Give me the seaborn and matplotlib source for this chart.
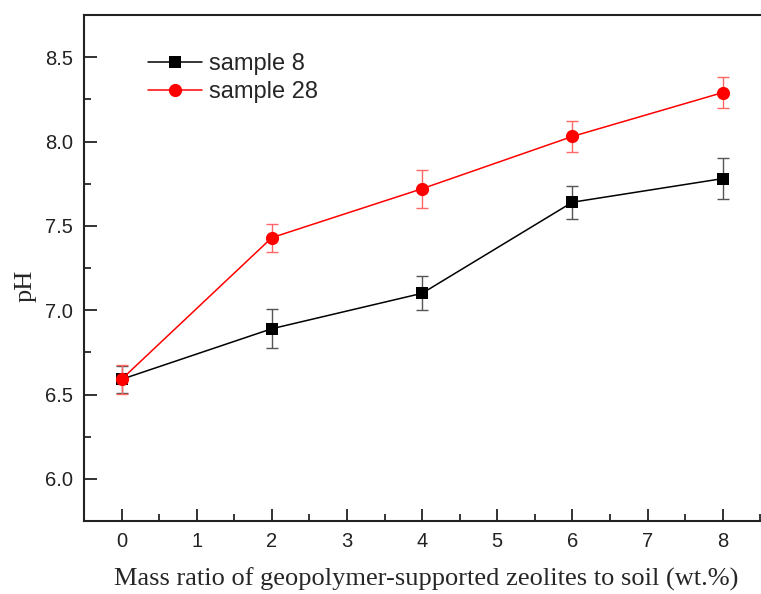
import numpy as np
import pandas as pd
import matplotlib
matplotlib.use("Agg")
import matplotlib.pyplot as plt
import seaborn as sns
from matplotlib.ticker import MultipleLocator

# data
ratio = [0, 2, 4, 6, 8]
ph_s8 = [6.59, 6.89, 7.10, 7.64, 7.78]
err_s8 = [0.08, 0.115, 0.10, 0.097, 0.12]
ph_s28 = [6.59, 7.43, 7.72, 8.03, 8.29]
err_s28 = [0.085, 0.083, 0.113, 0.093, 0.09]
series_names = ["sample 8", "sample 28"]
x_label = "Mass ratio of geopolymer-supported zeolites to soil (wt.%)"
y_label = "pH"

sns.set_style("ticks")
plt.rcParams['font.family'] = ['Liberation Sans', 'DejaVu Sans']

df = pd.DataFrame({
    "ratio": ratio * 2,
    "pH": ph_s8 + ph_s28,
    "series": [series_names[0]] * len(ratio) + [series_names[1]] * len(ratio),
})

fig = plt.figure(figsize=(7.61, 5.94), dpi=100)
ax = fig.add_axes([84 / 761, 1 - 521 / 594, (764 - 84) / 761, 506 / 594])

# error bars
ax.errorbar(ratio, ph_s8, yerr=err_s8, fmt="none", ecolor="#555555", elinewidth=1,
            capsize=4, capthick=1, zorder=2)
ax.errorbar(ratio, ph_s28, yerr=err_s28, fmt="none", ecolor="#ff6666", elinewidth=1,
            capsize=4, capthick=1, zorder=4)

sns.lineplot(data=df[df.series == series_names[0]], x="ratio", y="pH", color="black",
             marker="s", markersize=8, markeredgewidth=0, linewidth=1.1, ax=ax,
             label=series_names[0], zorder=3)
sns.lineplot(data=df[df.series == series_names[1]], x="ratio", y="pH", color="#ff0000",
             marker="o", markersize=9.5, markeredgewidth=0, linewidth=1.1, ax=ax,
             label=series_names[1], zorder=5)

ax.set_xlim(-0.5, 8.55)
ax.set_ylim(5.75, 8.75)
ax.xaxis.set_major_locator(MultipleLocator(1))
ax.xaxis.set_minor_locator(MultipleLocator(0.5))
ax.yaxis.set_major_locator(MultipleLocator(0.5))
ax.yaxis.set_minor_locator(MultipleLocator(0.25))
ax.yaxis.set_major_formatter(matplotlib.ticker.FormatStrFormatter("%.1f"))

ax.tick_params(axis="both", which="major", direction="in", length=9, width=1.3,
               labelsize=14.5, colors="#222222", pad=8)
ax.tick_params(axis="both", which="minor", direction="in", length=5, width=1.3)
ax.tick_params(top=False, right=False, which="both")
for s in ax.spines.values():
    s.set_linewidth(1.5)
    s.set_color("#222222")

ax.set_xlabel(x_label, family=["Liberation Serif", "DejaVu Serif"], fontsize=19)
ax.set_ylabel(y_label, family=["Liberation Serif", "DejaVu Serif"], fontsize=19)
ax.xaxis.set_label_coords((426 - 84) / 680, (521 - 568) / 506)
ax.yaxis.set_label_coords((37 - 84) / 680, (521 - 286) / 506)

leg = ax.legend(loc="upper left", bbox_to_anchor=(0.080, 0.944), frameon=False,
                fontsize=17, handlelength=2.29, handletextpad=0.3, labelspacing=0.27,
                borderaxespad=0)

fig.savefig("out.png", dpi=100)
